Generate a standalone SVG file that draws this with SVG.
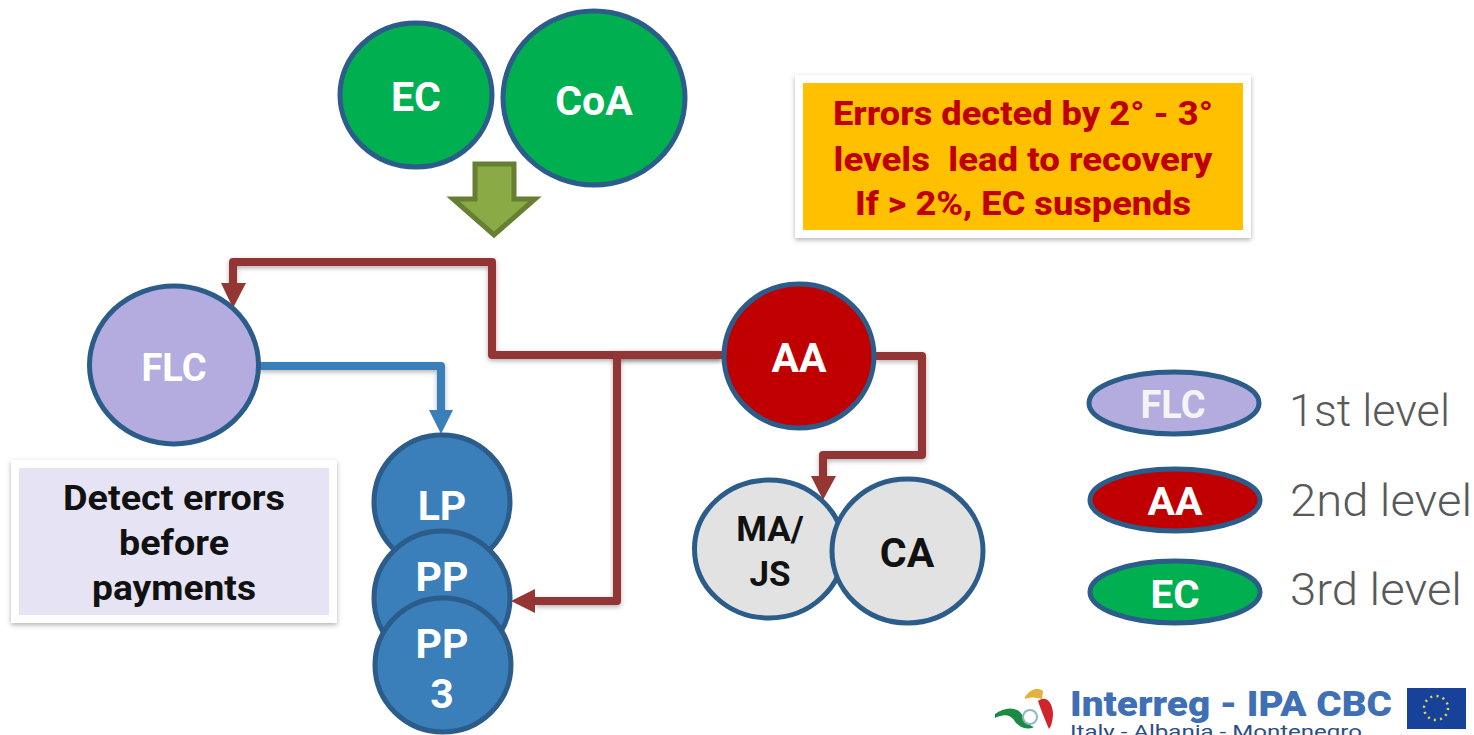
<svg xmlns="http://www.w3.org/2000/svg" width="1474" height="735" viewBox="0 0 1474 735">
<style>
text{font-family:Roboto,"Liberation Sans",sans-serif;text-anchor:middle}
.n{stroke:#2b5c8a;stroke-width:5}
.w{fill:#fff;font-weight:700;font-size:41px}
.f{font-size:38px}
.k{fill:#111;font-weight:700;font-size:35px}
.r{fill:#c00000;font-weight:800;font-size:34px}
.l{fill:#595959;font-size:45px;text-anchor:start;font-weight:300}
.c{fill:none;stroke:#943634;stroke-width:8;stroke-linejoin:round}
.g{fill:#00b050}.p{fill:#b4acdf}.d{fill:#c00000}.u{fill:#3a7fba}.y{fill:#e2e2e2}
</style>
<defs>
<filter id="s" x="-10%" y="-10%" width="120%" height="125%"><feDropShadow dx="0" dy="2" stdDeviation="2.5" flood-color="#000" flood-opacity=".3"/></filter>
</defs>
<g id="connectors">
<path class="c" d="M722 355H492V262H233V286" filter="url(#s)"/>
<path d="M221 283H246L233 308Z" fill="#943634"/>
<path class="c" d="M722 355H617V601H535" filter="url(#s)"/>
<path d="M535 589V613L511 601Z" fill="#943634"/>
<path class="c" d="M876 356H922V455H823V478" filter="url(#s)"/>
<path d="M811 476H836L823 500Z" fill="#943634"/>
<path d="M260 366H441V412" fill="none" stroke="#3a7fba" stroke-width="8" stroke-linejoin="round" filter="url(#s)"/>
<path d="M429 410H453L441 434Z" fill="#3a7fba"/>
</g>
<g id="arrow"><path d="M475 164H514V199H535L494 235L453 199H475Z" fill="#8aaa45" stroke="#667f32" stroke-width="5"/></g>
<g id="ec"><ellipse class="n g" cx="416" cy="95" rx="76" ry="72"/><text class="w" x="416" y="111" textLength="50" lengthAdjust="spacingAndGlyphs">EC</text></g>
<g id="coa"><ellipse class="n g" cx="594" cy="98" rx="91" ry="87"/><text class="w" x="594" y="115">CoA</text></g>
<g id="note-red"><rect x="799" y="79" width="448" height="155" fill="#ffc000" stroke="#fff" stroke-width="8" filter="url(#s)"/>
<text class="r" x="1023" y="125" textLength="380" lengthAdjust="spacingAndGlyphs">Errors dected by 2° - 3°</text><text class="r" x="1023" y="171" textLength="379" lengthAdjust="spacingAndGlyphs" xml:space="preserve">levels  lead to recovery</text><text class="r" x="1023" y="215" textLength="336" lengthAdjust="spacingAndGlyphs">If &gt; 2%, EC suspends</text></g>
<g id="flc"><ellipse class="n p" cx="174" cy="365" rx="84.5" ry="79"/><text class="w f" x="174" y="381">FLC</text></g>
<g id="aa"><ellipse class="n d" cx="799" cy="356" rx="75" ry="72"/><text class="w" x="799" y="372">AA</text></g>
<g id="note-detect"><rect x="15" y="464" width="318" height="155" fill="#e6e4f4" stroke="#fff" stroke-width="8" filter="url(#s)"/>
<text class="k" x="174" y="510" textLength="222" lengthAdjust="spacingAndGlyphs">Detect errors</text><text class="k" x="174" y="555" textLength="110" lengthAdjust="spacingAndGlyphs">before</text><text class="k" x="174" y="600" textLength="164" lengthAdjust="spacingAndGlyphs">payments</text></g>
<g id="lp"><ellipse class="n u" cx="442" cy="502" rx="68" ry="67"/><text class="w" x="442" y="520">LP</text></g>
<g id="pp"><ellipse class="n u" cx="442" cy="598" rx="68" ry="67"/><text class="w" x="442" y="591">PP</text></g>
<g id="pp3"><ellipse class="n u" cx="443" cy="665" rx="68" ry="67"/><text class="w" x="442" y="658">PP</text><text class="w" x="442" y="708">3</text></g>
<g id="ma"><ellipse class="n y" cx="769" cy="549" rx="74.5" ry="69"/><text class="k" x="770" y="541">MA/</text><text class="k" x="770" y="586">JS</text></g>
<g id="ca"><ellipse class="n y" cx="907.5" cy="551" rx="75.5" ry="72"/><text class="w" x="907" y="567" style="fill:#111">CA</text></g>
<g id="legend-flc"><ellipse class="n p" cx="1174" cy="403" rx="85" ry="31"/><text class="w f" x="1173" y="418" style="fill:#f4f4f4">FLC</text></g>
<g id="legend-aa"><ellipse class="n d" cx="1175" cy="500" rx="85" ry="31"/><text class="w f" x="1175" y="515" textLength="55" lengthAdjust="spacingAndGlyphs">AA</text></g>
<g id="legend-ec"><ellipse class="n g" cx="1175" cy="592" rx="85" ry="31"/><text class="w f" x="1175" y="608" textLength="49" lengthAdjust="spacingAndGlyphs">EC</text></g>
<text class="l" x="1289" y="426" textLength="161" lengthAdjust="spacingAndGlyphs">1st level</text>
<text class="l" x="1290" y="516" textLength="182" lengthAdjust="spacingAndGlyphs">2nd level</text>
<text class="l" x="1290" y="605" textLength="172" lengthAdjust="spacingAndGlyphs">3rd level</text>
<g id="logo">
<path d="M995 714C1003 708 1013 706 1020 712C1025 718 1027 725 1034 727C1026 731 1018 727 1014 720C1010 714 1003 714 995 718Z" fill="#1a8a44"/>
<path d="M1025 697C1030 689 1038 687 1043 691L1042 699C1036 697 1030 697 1025 699Z" fill="#e3b23c"/>
<path d="M1038 701C1046 695 1052 702 1053 713C1053 720 1051 727 1049 729C1046 722 1041 710 1038 701Z" fill="#d1232a"/>
<circle cx="1030" cy="717" r="7" fill="#fff" stroke="#8fb6c9" stroke-width="2"/>
<text x="1231" y="716" style="font-size:35px;font-weight:900;fill:#3f6fb5" textLength="322" lengthAdjust="spacingAndGlyphs">Interreg - IPA CBC</text>
<text x="1216" y="738" style="font-size:19px;fill:#2c4d8a" textLength="292" lengthAdjust="spacingAndGlyphs">Italy - Albania - Montenegro</text>
<rect x="1407" y="688" width="59" height="41" fill="#17429a"/>
<circle cx="1436" cy="708" r="12" fill="none" stroke="#e7d84a" stroke-width="2.5" stroke-dasharray="2 4.3"/>
</g>
</svg>
